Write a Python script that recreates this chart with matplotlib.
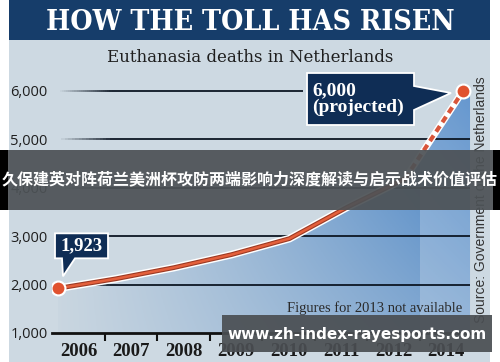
import numpy as np
import matplotlib
matplotlib.use('Agg')
import matplotlib.pyplot as plt
from matplotlib.patches import Rectangle, Polygon
from matplotlib.collections import LineCollection
from matplotlib.transforms import IdentityTransform

# data (2013 not available)
years = ['2006', '2007', '2008', '2009', '2010', '2011', '2012', '2014']
deaths = [1923, 2120, 2350, 2620, 2950, 3600, 4190, 6000]
y_ticks = [1000, 2000, 3000, 4000, 5000, 6000]
y_tick_labels = ['1,000', '2,000', '3,000', '4,000', '5,000', '6,000']
first_label = '1,923'
last_label = '6,000\n(projected)'

W, H = 500, 362
PX_IDX = 57.86      # pixels per year slot
PX_VAL = 0.0484     # pixels per death

NAVY = '#163d6a'
BG = '#cdd9e2'

fig = plt.figure(figsize=(W / 100, H / 100), dpi=100)
fig.patch.set_facecolor('white')


def fig_rect(x, y, w, h, **kw):
    """rectangle in image pixels (y from top)"""
    r = Rectangle((x / W, 1 - (y + h) / H), w / W, h / H, transform=fig.transFigure, **kw)
    fig.add_artist(r)
    return r


# panel background + title band
fig_rect(9, 0, 481, H, fc=BG, ec='none', zorder=-2)
fig_rect(9, 0, 481, 40, fc=NAVY, ec='none', zorder=-1)
fig.text(0.5, 1 - 23 / H, 'HOW THE TOLL HAS RISEN', ha='center', va='center', color='white',
         fontsize=20.5, fontweight='bold', family='DejaVu Serif', fontstretch='condensed')
fig.text(0.5, 1 - 57 / H, 'Euthanasia deaths in Netherlands', ha='center', va='center',
         color='#1e1e1e', fontsize=12, family='DejaVu Serif')

ax = fig.add_axes([52 / W, 29 / H, 423 / W, 293 / H])
ax.patch.set_alpha(0)
xs = np.arange(len(deaths))
x_end = xs[-1] + 7 / PX_IDX

# gradient fill under the curve
poly = np.vstack([np.column_stack([xs, deaths]),
                  [[x_end, deaths[-1]], [x_end, 1000], [xs[0], 1000]]])
clip = Polygon(poly, closed=True, fc='none', ec='none')
ax.add_patch(clip)
gx, gy = np.meshgrid(np.linspace(0, 1, 240), np.linspace(0, 1, 120))
t = gx ** 1.05 * (0.55 + 0.45 * gy)
light = np.array([0.79, 0.84, 0.88])
blue = np.array([0.23, 0.48, 0.76])
img = light + (blue - light) * t[..., None]
im = ax.imshow(img, extent=(xs[0], x_end, 1000, max(deaths)), origin='lower',
               aspect='auto', zorder=1)
im.set_clip_path(clip)

label_pos = np.linspace(0.354, 6.706, len(years))
minor_pos = (label_pos[:-1] + label_pos[1:]) / 2

band = Rectangle((minor_pos[-1], 1000), x_end - minor_pos[-1], max(deaths) - 1000,
                 fc='white', alpha=0.22, ec='none', zorder=1.5)
ax.add_patch(band)
band.set_clip_path(clip)

ax.set_xlim(-6 / PX_IDX, 417 / PX_IDX)
ax.set_ylim(1000, 1000 + 293 / PX_VAL)

# fading gridlines
box_left = xs[-1] - 160 / PX_IDX
for v in y_ticks[1:]:
    stop = box_left if v == 6000 else x_end
    gxs = np.linspace(xs[0], stop, 120)
    segs = [[(gxs[i], v), (gxs[i + 1], v)] for i in range(len(gxs) - 1)]
    alphas = np.clip((gxs[:-1] - gxs[0]) / 0.9, 0, 1)
    cols = [(0.05, 0.09, 0.14, a) for a in alphas]
    ax.add_collection(LineCollection(segs, colors=cols, linewidths=1.3, zorder=2))

# curve
ax.plot(xs[:-1], deaths[:-1], color='white', lw=5.5, solid_capstyle='round', zorder=4)
ax.plot(xs[:-1], deaths[:-1], color='#9c3a24', lw=3.4, solid_capstyle='round', zorder=5)
ax.plot(xs[:-1], deaths[:-1], color='#e4603c', lw=1.8, solid_capstyle='round', zorder=6)
ax.plot(xs[-2:], deaths[-2:], color='white', lw=5, zorder=4)
ax.plot(xs[-2:], deaths[-2:], color='#d8553a', lw=3, dashes=(1.6, 1.1), zorder=5)
ax.scatter([xs[0], xs[-1]], [deaths[0], deaths[-1]], s=100, c='#e0522f',
           edgecolors='white', linewidths=1.5, zorder=7)

# axes styling
for s in ['left', 'right', 'top']:
    ax.spines[s].set_visible(False)
ax.spines['bottom'].set_linewidth(2)
ax.spines['bottom'].set_color('#111111')
ax.spines['bottom'].set_zorder(3)
ax.set_yticks(y_ticks, y_tick_labels)
ax.tick_params(axis='y', length=0, pad=3, labelsize=10.5, labelcolor='#1e1e1e')
for lab in ax.get_yticklabels():
    lab.set_family('Open Sans')
ax.set_xticks(label_pos, years)
ax.set_xticks(minor_pos, minor=True)
ax.tick_params(axis='x', which='major', length=0, pad=7.5, labelsize=13.5, labelcolor='#1a1a1a')
ax.tick_params(axis='x', which='minor', length=6, width=1.5, color='#111111')
for lab in ax.get_xticklabels():
    lab.set_family('Liberation Serif')
    lab.set_fontweight('bold')

# callouts, drawn in pixel offsets from their points
tr = IdentityTransform()
px, py = ax.transData.transform((xs[0], deaths[0]))
shape = np.array([(-3, 30), (4, 30), (5, 12), (17, 30), (50, 30), (50, 55), (-3, 55)]) + (px, py)
fig.add_artist(Polygon(shape, closed=True, fc='#0f2d55', ec='white', lw=1.3, transform=tr, zorder=8))
fig.text(px + 23.5, py + 42.5, first_label, transform=tr, ha='center', va='center', color='white',
         fontsize=13.5, fontweight='bold', family='Liberation Serif', zorder=9)

px, py = ax.transData.transform((xs[-1], deaths[-1]))
shape = np.array([(-156, -34), (-49, -34), (-49, -19), (-12, -2), (-49, 5), (-49, 18), (-156, 18)]) + (px, py)
fig.add_artist(Polygon(shape, closed=True, fc='#0f2d55', ec='white', lw=1.3, transform=tr, zorder=8))
fig.text(px - 151, py - 8, last_label, transform=tr, ha='left', va='center', color='white',
         fontsize=14, fontweight='bold', family='Liberation Serif', linespacing=1.0, zorder=9)

fig.text(375 / W, 1 - 308 / H, 'Figures for 2013 not available', ha='center', va='center',
         color='#2a2a2a', fontsize=10.5, family='Liberation Serif')
fig.text(481 / W, 1 - 200 / H, 'Source: Government of the Netherlands', rotation=90,
         ha='center', va='center', color='#333333', fontsize=10, family='Liberation Sans')

# overlays on top of the image
fig_rect(0, 150, W, 60, fc='#4d5256', alpha=0.93, ec='none', zorder=10)
fig_rect(0, 150, 8, 60, fc='black', ec='none', zorder=10)
fig_rect(493, 150, 7, 60, fc='black', ec='none', zorder=10)
fig.text(0.5, 1 - 179 / H, '久保建英对阵荷兰美洲杯攻防两端影响力深度解读与启示战术价值评估',
         ha='center', va='center', color='white', fontsize=11.5, fontweight='bold',
         family=['Noto Sans CJK SC', 'DejaVu Sans'], zorder=11)
fig_rect(222, 315, 270, 37, fc='#4a4e52', alpha=0.92, ec='none', zorder=10)
fig.text(357 / W, 1 - 334 / H, 'www.zh-index-rayesports.com', ha='center', va='center',
         color='white', fontsize=11, fontweight='bold', family='DejaVu Sans', zorder=11)

fig.savefig('out.png', dpi=100)
